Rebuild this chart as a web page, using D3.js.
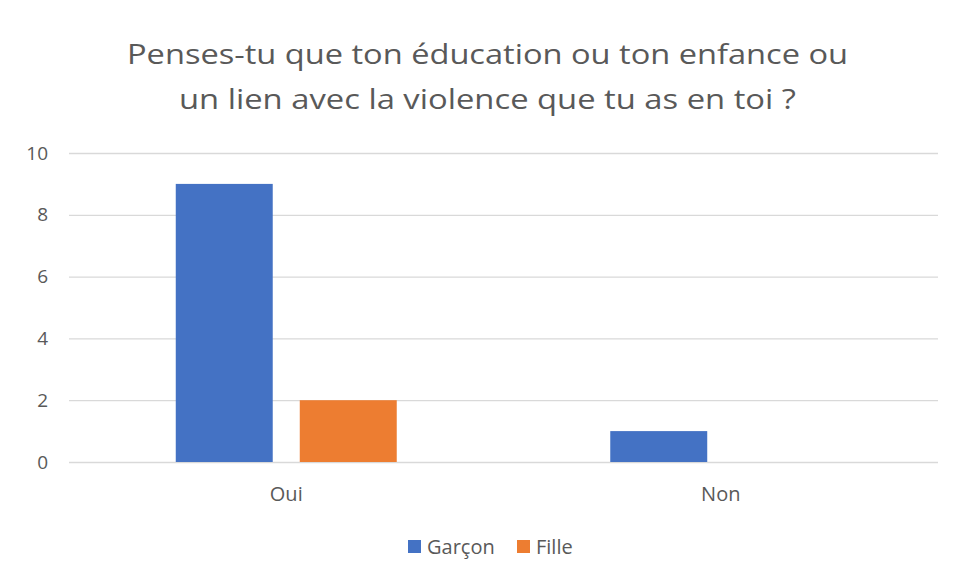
<!DOCTYPE html>
<html><head><meta charset="utf-8">
<script src="https://cdn.jsdelivr.net/npm/d3@7"></script>
<style>body{margin:0;background:#fff}svg{display:block}text{font-family:"Open Sans",sans-serif;fill:#595959}</style>
</head><body><svg id="c" width="959" height="577"></svg>
<script>
const titleLines = ["Penses-tu que ton éducation ou ton enfance ou", "un lien avec la violence que tu as en toi ?"];
const categories = ["Oui", "Non"];
const seriesNames = ["Garçon", "Fille"];
const garcon = [9, 1];
const fille = [2, 0];
const yTicks = [0, 2, 4, 6, 8, 10];
const colors = ["#4472C4", "#ED7D31"];

const svg = d3.select("#c");
const plotL = 69, plotR = 938, plotT = 153, plotB = 462;

// title
const titleWidths = [721, 617];
svg.selectAll("text.title").data(titleLines).join("text").attr("class","title")
  .attr("x", 487.5).attr("y", (d,i)=>63.5 + i*45).attr("text-anchor","middle")
  .attr("font-size", 28).attr("textLength",(d,i)=>titleWidths[i]).attr("lengthAdjust","spacingAndGlyphs")
  .text(d=>d);

const y = d3.scaleLinear().domain([0,10]).range([plotB, plotT]);
const x0 = d3.scaleBand().domain(categories).range([plotL, plotR]).paddingInner(0.4914).paddingOuter(0.2457);
const x1 = d3.scaleBand().domain(seriesNames).range([0, x0.bandwidth()]).paddingInner(0.218);

// gridlines
const yAxis = d3.axisLeft(y).tickValues(yTicks).tickSize(-(plotR-plotL)).tickFormat(d3.format("d")).tickPadding(21);
const ga = svg.append("g").attr("transform",`translate(${plotL},0)`).call(yAxis);
ga.select(".domain").remove();
ga.selectAll(".tick line").attr("stroke","#D9D9D9").attr("stroke-width",1.3);
ga.selectAll(".tick text").attr("font-size",19).attr("fill","#595959").style("font-family","Open Sans");

const data = categories.map((c,i)=>({cat:c, vals:[{s:seriesNames[0],v:garcon[i]},{s:seriesNames[1],v:fille[i]}]}));
const g = svg.append("g");
data.forEach(d=>{
  g.selectAll(null).data(d.vals.filter(e=>e.v>0)).join("rect")
    .attr("x", e=>x0(d.cat)+x1(e.s)).attr("width", x1.bandwidth())
    .attr("y", e=>y(e.v)).attr("height", e=>y(0)-y(e.v))
    .attr("fill", e=>colors[seriesNames.indexOf(e.s)]);
});

// x axis labels
const xAxis = d3.axisBottom(x0).tickSize(0).tickPadding(0);
const gx = svg.append("g").attr("transform",`translate(0,${plotB})`).call(xAxis);
gx.select(".domain").remove();
gx.selectAll(".tick text").attr("dy",null).attr("y",38.5).attr("font-size",20).attr("fill","#595959").style("font-family","Open Sans");

// legend
const legX = [408, 517];
const lg = svg.append("g");
seriesNames.forEach((s,i)=>{
  lg.append("rect").attr("x",legX[i]).attr("y",540).attr("width",13).attr("height",13).attr("fill",colors[i]);
  lg.append("text").attr("x",legX[i]+19).attr("y",554).attr("font-size",20).text(s);
});
</script></body></html>
